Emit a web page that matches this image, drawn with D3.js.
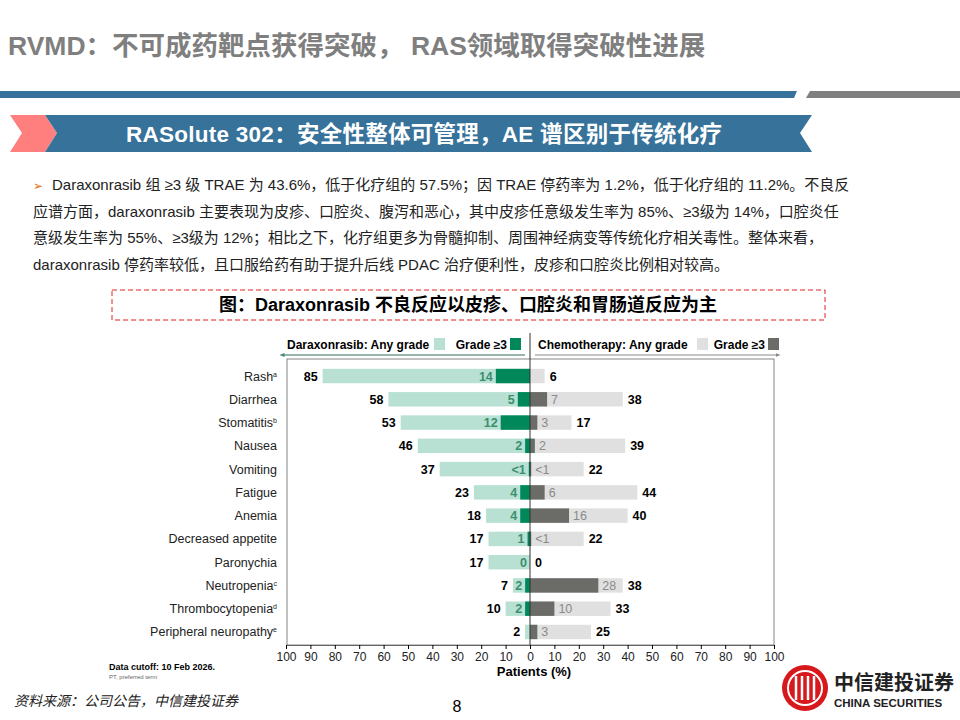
<!DOCTYPE html>
<html><head><meta charset="utf-8">
<script src="https://cdn.jsdelivr.net/npm/d3@7"></script>
<style>body{margin:0;background:#fff}svg{display:block;font-family:"Liberation Sans",Arial,"Noto Sans CJK SC",sans-serif}</style>
</head><body><svg id="c" width="960" height="720"></svg>
<script>
const categories=["Rash","Diarrhea","Stomatitis","Nausea","Vomiting","Fatigue","Anemia","Decreased appetite","Paronychia","Neutropenia","Thrombocytopenia","Peripheral neuropathy"];
const sups=["a","","b","","","","","","","c","d","e"];
const daraAny=[85,58,53,46,37,23,18,17,17,7,10,2];
const daraG3=[14,5,12,2,0.5,4,4,1,0,2,2,0];
const daraG3Label=["14","5","12","2","<1","4","4","1","0","2","2",""];
const chemoAny=[6,38,17,39,22,44,40,22,0,38,33,25];
const chemoG3=[0,7,3,2,0.5,6,16,0.5,0,28,10,3];
const chemoG3Label=["","7","3","2","<1","6","16","<1","","28","10","3"];
const ticks=[100,90,80,70,60,50,40,30,20,10,0,10,20,30,40,50,60,70,80,90,100];
const bullet=["Daraxonrasib 组 ≥3 级 TRAE 为 43.6%，低于化疗组的 57.5%；因 TRAE 停药率为 1.2%，低于化疗组的 11.2%。不良反",
"应谱方面，daraxonrasib 主要表现为皮疹、口腔炎、腹泻和恶心，其中皮疹任意级发生率为 85%、≥3级为 14%，口腔炎任",
"意级发生率为 55%、≥3级为 12%；相比之下，化疗组更多为骨髓抑制、周围神经病变等传统化疗相关毒性。整体来看，",
"daraxonrasib 停药率较低，且口服给药有助于提升后线 PDAC 治疗便利性，皮疹和口腔炎比例相对较高。"];

const svg=d3.select("#c");
svg.append("text").attr("x",8).attr("y",55).attr("font-size",26.5).attr("font-weight","bold").attr("fill","#7f7f7f").text("RVMD：不可成药靶点获得突破， RAS领域取得突破性进展");
svg.append("path").attr("d","M0,91H797L794,98H0Z").attr("fill","#367299");
svg.append("path").attr("d","M810,91H960V98H806Z").attr("fill","#7f7f7f");
svg.append("path").attr("d","M10,115H45L57,133L45,152H10L22,133Z").attr("fill","#ff7f7f");
svg.append("path").attr("d","M45,115H812L800,133L812,152H45L57,133Z").attr("fill","#367299");
svg.append("text").attr("x",126).attr("y",142).attr("font-size",22.5).attr("font-weight","bold").attr("fill","#fff").attr("textLength",596).text("RASolute 302：安全性整体可管理，AE 谱区别于传统化疗");
svg.append("text").attr("x",33).attr("y",190).attr("font-size",12).attr("fill","#e07020").text("➢");
const bw=[833,852,812,747];
bullet.forEach((t,i)=>svg.append("text").attr("x",i?33:52).attr("y",190+i*26.5).attr("font-size",15).attr("fill","#222").text(t));
svg.append("rect").attr("x",112).attr("y",290).attr("width",713).attr("height",30).attr("fill","none").attr("stroke","#e02020").attr("stroke-dasharray","5,3");
svg.append("text").attr("x",468).attr("y",311).attr("text-anchor","middle").attr("font-size",18).attr("font-weight","bold").text("图：Daraxonrasib 不良反应以皮疹、口腔炎和胃肠道反应为主");

const xL=d3.scaleLinear().domain([100,0]).range([286,530]);
const xR=d3.scaleLinear().domain([0,100]).range([530,774]);
const y=d3.scaleBand().domain(categories).range([363,645]).paddingInner(0.38).paddingOuter(0.25);
const g=svg.append("g");
g.append("rect").attr("x",287).attr("y",359).attr("width",487).attr("height",286).attr("fill","none").attr("stroke","#666").attr("stroke-width",0.8);
const lightG="#b8e0d3",darkG="#00875a",lightC="#e0e0e0",darkC="#6b6b68";
categories.forEach((c,i)=>{
  const yy=y(c),h=y.bandwidth(),cy=yy+h/2+4.5;
  g.append("rect").attr("x",xL(daraAny[i])).attr("y",yy).attr("width",530-xL(daraAny[i])).attr("height",h).attr("fill",lightG);
  g.append("rect").attr("x",xR(0)).attr("y",yy).attr("width",xR(chemoAny[i])-530).attr("height",h).attr("fill",lightC);
  g.append("rect").attr("x",xL(daraG3[i])).attr("y",yy).attr("width",530-xL(daraG3[i])).attr("height",h).attr("fill",darkG);
  g.append("rect").attr("x",xR(0)).attr("y",yy).attr("width",xR(chemoG3[i])-530).attr("height",h).attr("fill",darkC);
  g.append("text").attr("x",xL(daraAny[i])-5).attr("y",cy).attr("text-anchor","end").attr("font-size",12.5).attr("font-weight","bold").text(daraAny[i]);
  g.append("text").attr("x",xR(chemoAny[i])+5).attr("y",cy).attr("font-size",12.5).attr("font-weight","bold").text(chemoAny[i]);
  if(daraG3Label[i]) g.append("text").attr("x",xL(Math.max(daraG3[i],0))-3).attr("y",cy).attr("text-anchor","end").attr("font-size",12.5).attr("font-weight","bold").attr("fill","#3b8f6e").text(daraG3Label[i]);
  if(chemoG3Label[i]) g.append("text").attr("x",xR(chemoG3[i])+4).attr("y",cy).attr("font-size",12.5).attr("fill","#8a8a8a").text(chemoG3Label[i]);
  const t=g.append("text").attr("x",277).attr("y",cy).attr("text-anchor","end").attr("font-size",12.5).attr("fill","#222").text(c);
  if(sups[i]) t.append("tspan").attr("font-size",7).attr("dy",-4).text(sups[i]);
});
g.append("line").attr("x1",530).attr("x2",530).attr("y1",333).attr("y2",645).attr("stroke","#333");
const ax=d3.scaleLinear().domain([-100,100]).range([286,774]);
const axis=g.append("g").attr("transform","translate(0,645)").call(d3.axisBottom(ax).tickValues(d3.range(-100,101,10)).tickFormat(d=>Math.abs(d)).tickSize(4));
axis.select(".domain").attr("stroke","#666");axis.selectAll("text").attr("font-size",12).attr("fill","#222");
g.append("text").attr("x",534).attr("y",676).attr("text-anchor","middle").attr("font-size",13).attr("font-weight","bold").text("Patients (%)");
const defs=svg.append("defs");
defs.append("marker").attr("id","ar").attr("viewBox","0 0 10 10").attr("refX",5).attr("refY",5).attr("markerWidth",5).attr("markerHeight",5).attr("orient","auto-start-reverse").append("path").attr("d","M0,1L10,5L0,9Z").attr("fill","#4a8a70");
defs.append("marker").attr("id","ar2").attr("viewBox","0 0 10 10").attr("refX",5).attr("refY",5).attr("markerWidth",5).attr("markerHeight",5).attr("orient","auto").append("path").attr("d","M0,1L10,5L0,9Z").attr("fill","#888");
g.append("line").attr("x1",282).attr("x2",525).attr("y1",355).attr("y2",355).attr("stroke","#2f6f55").attr("marker-start","url(#ar)");
g.append("line").attr("x1",535).attr("x2",778).attr("y1",355).attr("y2",355).attr("stroke","#888").attr("marker-end","url(#ar2)");
const lg=[[287,"Daraxonrasib: Any grade",lightG,"Grade ≥3",darkG,434,510],[538,"Chemotherapy: Any grade",lightC,"Grade ≥3",darkC,697,768]];
lg.forEach(l=>{
  g.append("text").attr("x",l[0]).attr("y",349).attr("font-size",12).attr("font-weight","bold").text(l[1]);
  g.append("rect").attr("x",l[5]).attr("y",338).attr("width",11).attr("height",12).attr("fill",l[2]);
  g.append("text").attr("x",l[6]-3).attr("y",349).attr("text-anchor","end").attr("font-size",12).attr("font-weight","bold").text(l[3]);
  g.append("rect").attr("x",l[6]).attr("y",338).attr("width",11).attr("height",12).attr("fill",l[4]);
});
svg.append("text").attr("x",109).attr("y",670).attr("font-size",9).attr("font-weight","bold").text("Data cutoff: 10 Feb 2026.");
svg.append("text").attr("x",109).attr("y",679).attr("font-size",6).attr("fill","#666").text("PT, preferred term");
svg.append("text").attr("x",14).attr("y",706).attr("font-size",14).attr("font-style","italic").attr("fill","#222").text("资料来源：公司公告，中信建投证券");
svg.append("text").attr("x",457).attr("y",712).attr("text-anchor","middle").attr("font-size",16).text("8");
svg.append("circle").attr("cx",805).attr("cy",688).attr("r",23).attr("fill","#d7191c");
svg.append("circle").attr("cx",805).attr("cy",688).attr("r",17).attr("fill","none").attr("stroke","#fff").attr("stroke-width",2);
[-9,-3,3,9].forEach(d=>svg.append("line").attr("x1",805+d).attr("x2",805+d).attr("y1",676).attr("y2",700).attr("stroke","#fff").attr("stroke-width",2.5));
svg.append("text").attr("x",834).attr("y",690).attr("font-size",20).attr("font-weight","bold").attr("fill","#222").text("中信建投证券");
svg.append("text").attr("x",834).attr("y",707).attr("font-size",11.5).attr("font-weight","bold").attr("fill","#222").text("CHINA SECURITIES");
</script></body></html>
